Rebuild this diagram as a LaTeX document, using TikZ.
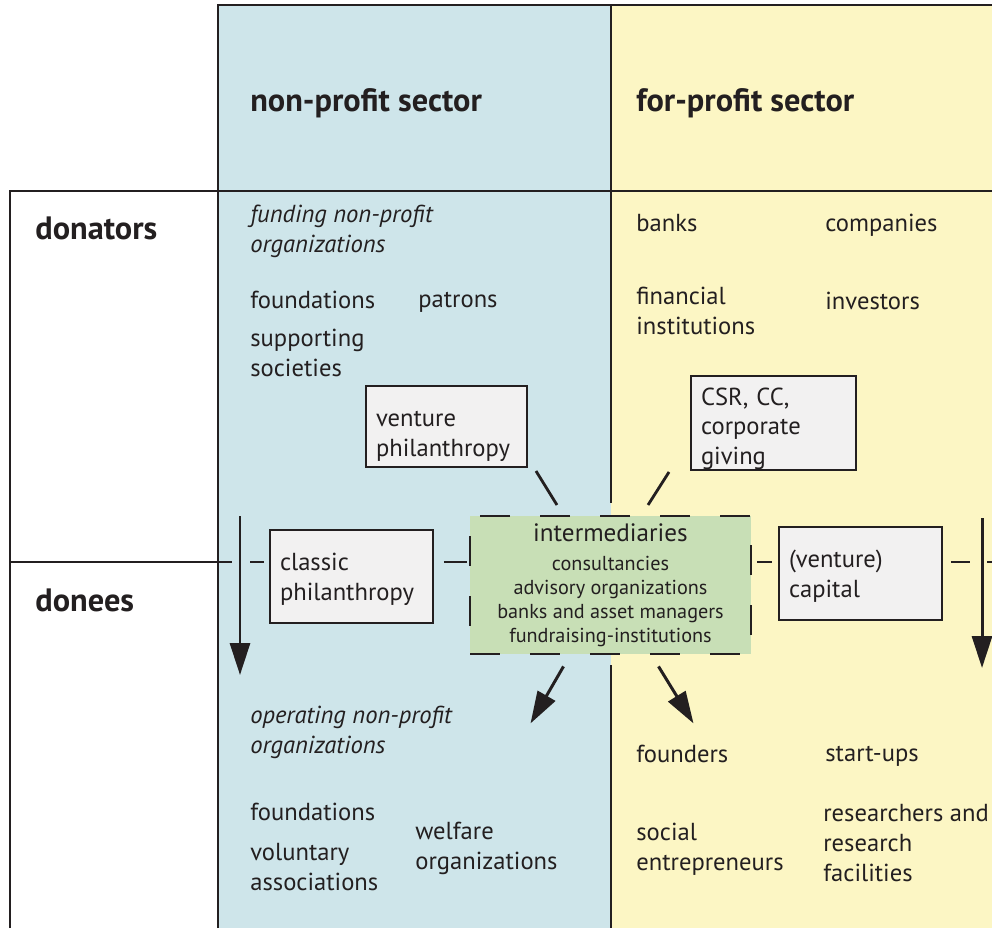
\documentclass[tikz,border=0pt]{standalone}
\usepackage{fontspec}
\setmainfont{PT Sans}
\usetikzlibrary{arrows.meta}
\definecolor{npblue}{RGB}{206,229,234}
\definecolor{fpyellow}{RGB}{252,246,196}
\definecolor{imgreen}{RGB}{200,223,182}
\definecolor{boxgray}{RGB}{242,241,241}
\definecolor{ink}{RGB}{35,31,32}
\begin{document}
\begin{tikzpicture}[x=0.2mm,y=-0.2mm,
		every node/.style={inner sep=0pt,text=ink,font=\fontsize{14}{17}\selectfont},
		head/.style={anchor=west,font=\fontsize{18.4}{22}\selectfont\bfseries},
		txt/.style={anchor=west,align=left},
		itxt/.style={txt,font=\fontsize{14}{17}\selectfont\itshape},
		sbox/.style={draw=ink,line width=1.1pt,fill=boxgray,inner xsep=2mm,align=left},
		rule/.style={draw=ink,line width=1.1pt},
		link/.style={draw=ink,line width=1.6pt},
		flow/.style={draw=ink,line width=1.7pt,-{Triangle[length=6.4mm,width=4mm]}}]
			\useasboundingbox (0,0) rectangle (992,930);
			% sectors and table lines
			\fill[npblue] (218,5) rectangle (611,928);
			\fill[fpyellow] (611,5) rectangle (992,928);
			\draw[rule] (10,928) -- (10,191) -- (992,191);
			\draw[rule] (218,928) -- (218,5) -- (992,5);
			\draw[rule] (10,562) -- (232,562);
			\draw[rule] (611,5) -- (611,503);
			\draw[rule] (611,665) -- (611,928);
			\node[head] (nonprofit) at (250,103) {non-profit sector};
			\node[head] (forprofit) at (636,103) {for-profit sector};
			\node[head] (donators) at (35,228) {donators};
			\node[head] (donees) at (35,600) {donees};
			% donators
			\node[itxt] (fundnp) at (250,231) {funding non-profit\\organizations};
			\node[txt] (foundtop) at (250,300) {foundations};
			\node[txt] (patrons) at (418,302) {patrons};
			\node[txt] (supsoc) at (250,353) {supporting\\societies};
			\node[txt] (banks) at (636,223) {banks};
			\node[txt] (companies) at (825,225) {companies};
			\node[txt] (fininst) at (636,311) {financial\\institutions};
			\node[txt] (investors) at (825,301) {investors};
			% boxes
			\node[sbox,text width=28.2mm,minimum height=16.2mm] (venture) at (446.5,426.5) {\rule{0pt}{20pt}venture\\philanthropy};
			\node[sbox,text width=29mm,minimum height=18.4mm] (csr) at (773.5,423) {\rule{0pt}{16.5pt}CSR, CC,\\corporate\\giving};
			\node[sbox,text width=28.6mm,minimum height=18.6mm] (classic) at (351.5,576.5) {\rule{0pt}{13.5pt}classic\\philanthropy};
			\node[sbox,text width=28.6mm,minimum height=18.6mm] (capital) at (860.5,573.5) {\rule{0pt}{13pt}(venture)\\capital};
			\node[draw=ink,line width=1.6pt,dash pattern=on 6mm off 6mm,fill=imgreen,
				minimum width=56.2mm,minimum height=27.6mm,align=center,
				font=\fontsize{11.5}{13.6}\selectfont] (inter) at (610.5,585)
				{{\fontsize{14.3}{17}\selectfont intermediaries}\\[3pt]consultancies\\advisory organizations\\banks and asset managers\\fundraising-institutions};
			% flows
			\coordinate (flowl) at (240,516);
			\coordinate (flowr) at (982,518);
			\coordinate (midl) at (240,562);
			\coordinate (midr) at (982,562);
			\draw[flow] (flowl) -- ++(0,159);
			\draw[flow] (flowr) -- ++(0,150);
			\draw[link,shorten <=2mm,shorten >=1mm] (midl) -- (classic.west |- midl);
			\draw[link,shorten <=2mm,shorten >=0.4mm] (classic.east |- midl) -- (inter.west |- midl);
			\draw[link,shorten <=1mm,shorten >=1.2mm] (inter.east |- midl) -- (capital.west |- midl);
			\draw[link,shorten <=1.6mm,shorten >=2.4mm] (capital.east |- midl) -- (midr);
			\draw[link,shorten <=1mm] (midr) -- (992,562);
			\draw[link] (venture.south east) ++(8,3) -- ++(21,34);
			\draw[link] (csr.south west) ++(-21,1) -- ++(-21,33);
			\draw[flow] (inter.south) ++(-47,11) -- ++(-33,57);
			\draw[flow] (inter.south) ++(48,11) -- ++(35,57);
			% donees
			\node[itxt] (opnp) at (250,732) {operating non-profit\\organizations};
			\node[txt] (foundbot) at (250,812) {foundations};
			\node[txt] (volass) at (250,867) {voluntary\\associations};
			\node[txt] (welfare) at (415,848) {welfare\\organizations};
			\node[txt] (founders) at (636,754) {founders};
			\node[txt] (startups) at (825,756) {start-ups};
			\node[txt] (socent) at (636,849) {social\\entrepreneurs};
			\node[txt] (research) at (823,843) {researchers and\\research\\facilities};
		\end{tikzpicture}
\end{document}
